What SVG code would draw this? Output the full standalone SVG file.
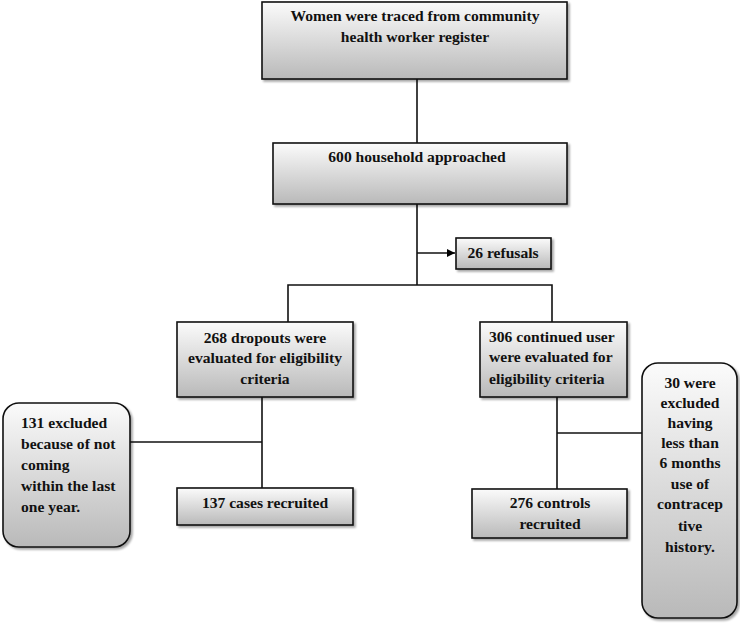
<svg xmlns="http://www.w3.org/2000/svg" width="740" height="624" viewBox="0 0 740 624">
<defs>
<linearGradient id="g" x1="0" y1="0" x2="0" y2="1">
<stop offset="0" stop-color="#fbfbfb"/>
<stop offset="1" stop-color="#b9b9b9"/>
</linearGradient>
<filter id="sh" x="-10%" y="-10%" width="130%" height="130%">
<feGaussianBlur in="SourceAlpha" stdDeviation="1.2"/>
<feOffset dx="2" dy="2" result="b"/>
<feComponentTransfer><feFuncA type="linear" slope="0.35"/></feComponentTransfer>
<feMerge><feMergeNode/><feMergeNode in="SourceGraphic"/></feMerge>
</filter>
<marker id="arr" viewBox="0 0 10 10" refX="10" refY="5" markerWidth="8" markerHeight="8" markerUnits="userSpaceOnUse" orient="auto">
<path d="M0,0 L10,5 L0,10 Z" fill="#000"/>
</marker>
</defs>
<style>
.box{fill:url(#g);stroke:#111;stroke-width:1.6;filter:url(#sh)}
.t{font-family:"Liberation Serif","Times New Roman",serif;font-weight:bold;font-size:15.6px;fill:#111}
.c{text-anchor:middle}
.ln{fill:none;stroke:#111;stroke-width:1.6}
</style>
<g id="connectors">
<path class="ln" d="M417,79 V143"/>
<path class="ln" d="M417,204 V285"/>
<path class="ln" d="M417,253 H455" marker-end="url(#arr)"/>
<path class="ln" d="M288,322 V285 H552 V322"/>
<path class="ln" d="M262,397 V488"/>
<path class="ln" d="M130,442 H262"/>
<path class="ln" d="M557,397 V489"/>
<path class="ln" d="M557,433 H642"/>
</g>
<g id="n1">
<rect class="box" x="262" y="2" width="305" height="77"/>
<text class="t c" x="415" y="21">Women were traced from community</text>
<text class="t c" x="415" y="42">health worker register</text>
</g>
<g id="n2">
<rect class="box" x="273" y="143" width="294" height="61"/>
<text class="t c" x="417" y="162">600 household approached</text>
</g>
<g id="n3">
<rect class="box" x="456" y="238" width="95" height="31"/>
<text class="t c" x="503" y="258">26 refusals</text>
</g>
<g id="n4">
<rect class="box" x="177" y="322" width="176" height="75"/>
<text class="t c" x="265" y="343">268 dropouts were</text>
<text class="t c" x="265" y="363">evaluated for eligibility</text>
<text class="t c" x="265" y="384">criteria</text>
</g>
<g id="n5">
<rect class="box" x="480" y="322" width="147" height="75"/>
<text class="t" x="489" y="342">306 continued user</text>
<text class="t" x="489" y="362">were evaluated for</text>
<text class="t" x="489" y="384">eligibility criteria</text>
</g>
<g id="n6">
<rect class="box" x="3" y="403" width="127" height="144" rx="16"/>
<text class="t" x="21" y="428">131 excluded</text>
<text class="t" x="21" y="449">because of not</text>
<text class="t" x="21" y="470">coming</text>
<text class="t" x="21" y="491">within the last</text>
<text class="t" x="21" y="512">one year.</text>
</g>
<g id="n7">
<rect class="box" x="177" y="488" width="176" height="37"/>
<text class="t c" x="265" y="508">137 cases recruited</text>
</g>
<g id="n8">
<rect class="box" x="642" y="363" width="95" height="255" rx="16"/>
<text class="t c" x="690" y="388">30 were</text>
<text class="t c" x="690" y="408">excluded</text>
<text class="t c" x="690" y="428">having</text>
<text class="t c" x="690" y="448">less than</text>
<text class="t c" x="690" y="468">6 months</text>
<text class="t c" x="690" y="489">use of</text>
<text class="t c" x="690" y="509">contracep</text>
<text class="t c" x="690" y="531">tive</text>
<text class="t c" x="690" y="552">history.</text>
</g>
<g id="n9">
<rect class="box" x="472" y="489" width="155" height="49"/>
<text class="t c" x="550" y="508">276 controls</text>
<text class="t c" x="550" y="529">recruited</text>
</g>
</svg>
